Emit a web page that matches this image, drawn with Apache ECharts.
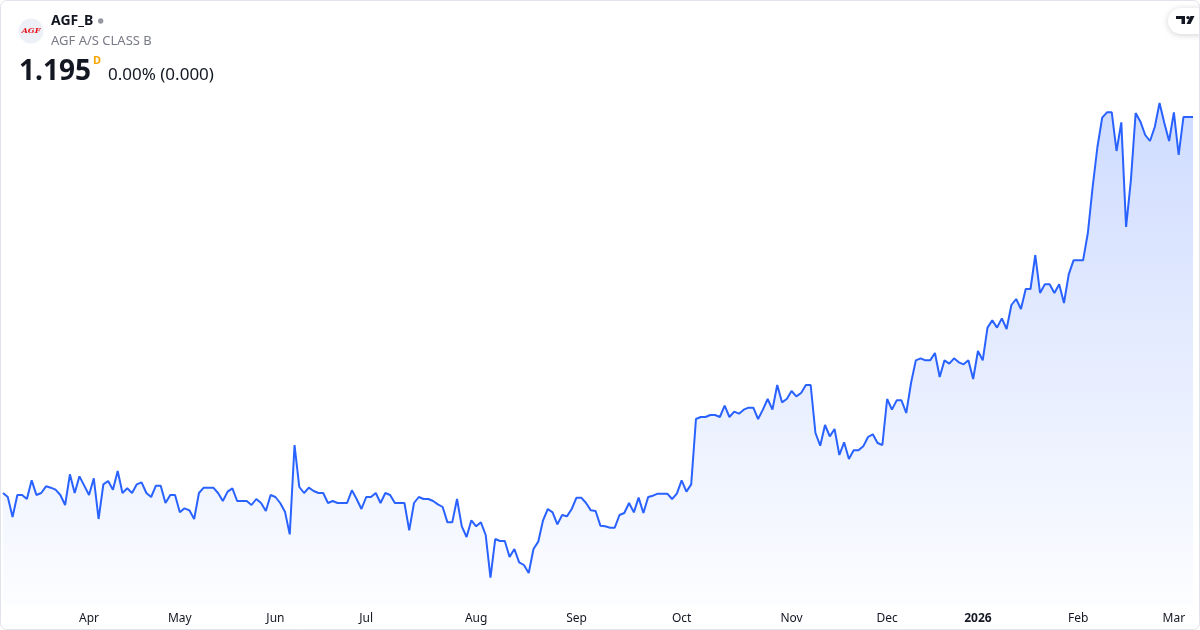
<!DOCTYPE html>
<html>
<head>
<meta charset="utf-8">
<title>AGF_B</title>
<script src="https://cdn.jsdelivr.net/npm/echarts@6.0.0/dist/echarts.min.js"></script>
<style>
  html, body { margin: 0; padding: 0; background: #fff; }
  #chart { width: 1200px; height: 630px; }
</style>
</head>
<body>
<div id="chart"></div>
<script>
// daily closes, 6 Mar 2025 -> 6 Mar 2026 (one value per trading day)
const prices = [
  0.631, 0.625, 0.595, 0.628, 0.628, 0.622, 0.650, 0.628, 0.631, 0.641,
  0.639, 0.636, 0.628, 0.613, 0.659, 0.631, 0.656, 0.642, 0.628, 0.653,
  0.592, 0.644, 0.649, 0.636, 0.664, 0.631, 0.638, 0.631, 0.644, 0.647,
  0.631, 0.625, 0.642, 0.642, 0.616, 0.628, 0.628, 0.602, 0.608, 0.605,
  0.592, 0.631, 0.639, 0.639, 0.639, 0.631, 0.619, 0.633, 0.638, 0.619,
  0.619, 0.619, 0.613, 0.622, 0.616, 0.604, 0.628, 0.625, 0.616, 0.603,
  0.569, 0.703, 0.640, 0.631, 0.639, 0.634, 0.631, 0.631, 0.616, 0.619,
  0.616, 0.616, 0.616, 0.635, 0.622, 0.607, 0.625, 0.625, 0.631, 0.616,
  0.631, 0.628, 0.616, 0.616, 0.616, 0.575, 0.616, 0.625, 0.622, 0.622,
  0.619, 0.614, 0.610, 0.587, 0.587, 0.622, 0.581, 0.565, 0.590, 0.581,
  0.587, 0.568, 0.504, 0.562, 0.559, 0.559, 0.535, 0.547, 0.527, 0.523,
  0.511, 0.547, 0.558, 0.590, 0.607, 0.602, 0.584, 0.598, 0.596, 0.607,
  0.624, 0.624, 0.616, 0.605, 0.604, 0.582, 0.581, 0.579, 0.579, 0.598,
  0.601, 0.616, 0.602, 0.624, 0.601, 0.625, 0.627, 0.630, 0.630, 0.630,
  0.622, 0.630, 0.650, 0.633, 0.644, 0.742, 0.745, 0.745, 0.748, 0.748,
  0.745, 0.762, 0.745, 0.753, 0.750, 0.756, 0.759, 0.759, 0.742, 0.756,
  0.772, 0.756, 0.793, 0.767, 0.772, 0.784, 0.776, 0.781, 0.793, 0.793,
  0.721, 0.702, 0.733, 0.716, 0.727, 0.688, 0.707, 0.682, 0.695, 0.695,
  0.701, 0.715, 0.719, 0.706, 0.703, 0.772, 0.756, 0.770, 0.770, 0.751,
  0.796, 0.830, 0.833, 0.830, 0.830, 0.841, 0.805, 0.830, 0.825, 0.833,
  0.827, 0.824, 0.830, 0.802, 0.844, 0.830, 0.879, 0.890, 0.879, 0.893,
  0.877, 0.913, 0.922, 0.907, 0.937, 0.937, 0.988, 0.931, 0.944, 0.944,
  0.931, 0.944, 0.916, 0.959, 0.980, 0.980, 0.980, 1.021, 1.090, 1.150,
  1.194, 1.202, 1.202, 1.144, 1.187, 1.030, 1.100, 1.201, 1.188, 1.168,
  1.159, 1.180, 1.216, 1.186, 1.159, 1.202, 1.138, 1.195, 1.195, 1.195
];

// first trading day of each month -> label on the time scale
const monthTicks = [
  { index: 18, label: 'Apr' },
  { index: 37, label: 'May' },
  { index: 57, label: 'Jun' },
  { index: 76, label: 'Jul' },
  { index: 99, label: 'Aug' },
  { index: 120, label: 'Sep' },
  { index: 142, label: 'Oct' },
  { index: 165, label: 'Nov' },
  { index: 185, label: 'Dec' },
  { index: 204, label: '2026' },
  { index: 225, label: 'Feb' },
  { index: 245, label: 'Mar' }
];

const days = prices.map((p, i) => String(i));
const tickMap = {};
monthTicks.forEach(t => { tickMap[t.index] = t.label; });

const font = '"Noto Sans", "Open Sans", Roboto, sans-serif';
const chart = echarts.init(document.getElementById('chart'));

const option = {
  animation: false,
  backgroundColor: '#ffffff',
  grid: { left: 3, right: 7, top: 80, bottom: 25 },
  xAxis: {
    type: 'category',
    data: days,
    boundaryGap: false,
    axisLine: { show: false },
    axisTick: { show: false },
    splitLine: { show: false },
    axisLabel: {
      margin: 8,
      color: '#131722',
      fontSize: 12,
      fontFamily: font,
      interval: (idx) => tickMap[idx] !== undefined,
      formatter: (val, idx) => {
        const lab = tickMap[idx];
        if (lab === undefined) return '';
        return lab === '2026' ? '{b|2026}' : lab;
      },
      rich: {
        b: { fontWeight: 'bold', color: '#131722', fontSize: 12, fontFamily: font }
      }
    }
  },
  yAxis: {
    type: 'value',
    min: 0.463,
    max: 1.2505,
    show: false,
    splitLine: { show: false }
  },
  series: [{
    type: 'line',
    data: prices,
    symbol: 'none',
    lineStyle: { color: '#2962ff', width: 2 },
    areaStyle: {
      color: new echarts.graphic.LinearGradient(0, 0, 0, 1, [
        { offset: 0, color: 'rgba(41, 98, 255, 0.32)' },
        { offset: 1, color: 'rgba(41, 98, 255, 0.02)' }
      ])
    }
  }],
  graphic: [
    // frame
    {
      type: 'rect', z: 100, silent: true,
      shape: { x: 0.5, y: 0.5, width: 1199, height: 629, r: 6 },
      style: { fill: 'none', stroke: '#e0e3eb', lineWidth: 1 }
    },
    // logo
    {
      type: 'circle', shape: { cx: 31, cy: 31, r: 12.5 },
      style: { fill: '#eef0f7' }
    },
    {
      type: 'text',
      style: {
        text: 'AGF', x: 31, y: 31, align: 'center', verticalAlign: 'middle',
        font: 'italic bold 8px "DejaVu Serif", serif', fill: '#e3161f'
      }
    },
    {
      type: 'text',
      style: {
        text: 'AGF_B', x: 51, y: 21, verticalAlign: 'middle',
        font: 'bold 14px ' + font, fill: '#131722'
      }
    },
    {
      type: 'circle', shape: { cx: 100.7, cy: 21, r: 2.7 },
      style: { fill: '#9598a1' }
    },
    {
      type: 'text',
      style: {
        text: 'AGF A/S CLASS B', x: 51, y: 41, verticalAlign: 'middle',
        font: '13px ' + font, fill: '#787b86'
      }
    },
    {
      type: 'text',
      style: {
        text: '1.195', x: 19, y: 72, verticalAlign: 'middle',
        font: 'bold 28px ' + font, fill: '#131722'
      }
    },
    {
      type: 'text',
      style: {
        text: 'D', x: 93, y: 61, verticalAlign: 'middle',
        font: 'bold 11px ' + font, fill: '#f7a400'
      }
    },
    {
      type: 'text',
      style: {
        text: '0.00% (0.000)', x: 108, y: 75, verticalAlign: 'middle',
        font: '17px ' + font, fill: '#131722'
      }
    },
    // TradingView badge
    {
      type: 'rect',
      shape: { x: 1168, y: 8, width: 44, height: 26, r: 13 },
      style: {
        fill: '#ffffff', shadowBlur: 6, shadowColor: 'rgba(0,0,0,0.18)',
        shadowOffsetY: 1
      }
    },
    {
      type: 'polygon',
      shape: { points: [[1176, 16], [1185, 16], [1185, 24], [1181.5, 24], [1181.5, 19], [1176, 19]] },
      style: { fill: '#131722' }
    },
    {
      type: 'circle', shape: { cx: 1188, cy: 17.6, r: 1.7 },
      style: { fill: '#131722' }
    },
    {
      type: 'polygon',
      shape: { points: [[1190.5, 16], [1194.5, 16], [1190.5, 24], [1186.5, 24]] },
      style: { fill: '#131722' }
    }
  ]
};

chart.setOption(option);
</script>
</body>
</html>
